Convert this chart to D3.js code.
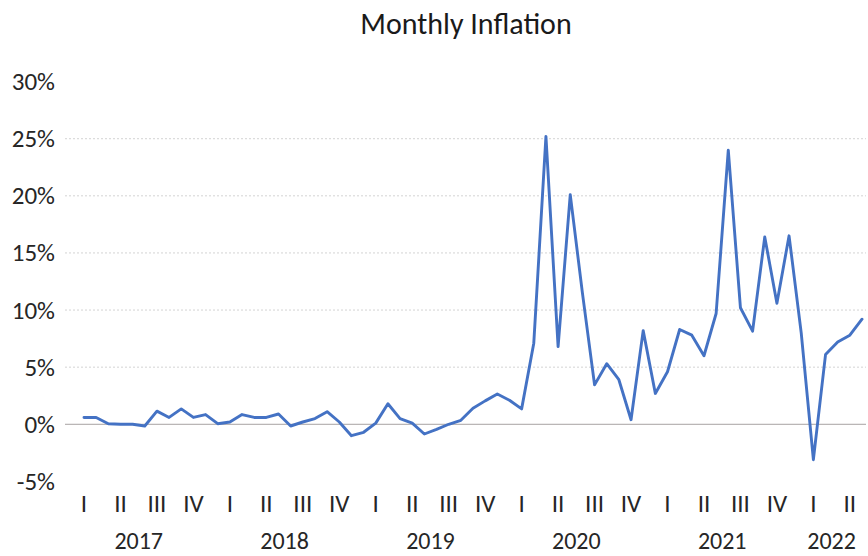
<!DOCTYPE html>
<html>
<head>
<meta charset="utf-8">
<script src="https://cdn.jsdelivr.net/npm/d3@7"></script>
<style>
  html, body { margin: 0; padding: 0; background: #ffffff; }
  svg { display: block; font-family: Carlito, Lato, "Open Sans", sans-serif; }
</style>
</head>
<body>
<svg id="chart" width="868" height="556"></svg>
<script>
// Monthly inflation, January 2017 – May 2022 (percent)
const years = [2017, 2018, 2019, 2020, 2021, 2022];
const quarterLabels = ["I", "II", "III", "IV"];
const inflation = [
  0.6, 0.6, 0.05, 0.0, 0.0, -0.15, 1.15, 0.6, 1.35, 0.6, 0.85, 0.05,      // 2017
  0.2, 0.85, 0.6, 0.6, 0.9, -0.15, 0.2, 0.5, 1.1, 0.2, -1.0, -0.7,        // 2018
  0.1, 1.8, 0.5, 0.1, -0.85, -0.45, 0.0, 0.35, 1.4, 2.05, 2.65, 2.1,      // 2019
  1.35, 7.1, 25.2, 6.8, 20.1, 11.5, 3.45, 5.3, 3.9, 0.4, 8.2, 2.7,        // 2020
  4.6, 8.3, 7.8, 6.0, 9.7, 24.0, 10.2, 8.15, 16.4, 10.6, 16.5, 8.0,       // 2021
  -3.1, 6.1, 7.2, 7.8, 9.2                                                // 2022
];
const yTicks = [-5, 0, 5, 10, 15, 20, 25, 30];
const title = "Monthly Inflation";

// month categories derived from the year list
const months = [];
years.forEach(y => { for (let m = 0; m < 12; m++) months.push({ year: y, month: m }); });
const series = inflation.map((v, i) => ({ i, year: months[i].year, month: months[i].month, v }));

const svg = d3.select("#chart");

const x = d3.scaleLinear().domain([0, series.length - 1]).range([84, 862]);
const y = d3.scaleLinear().domain([-5, 30]).range([481.4, 81.6]);
const gridLeft = 65, gridRight = 866;
const labelColor = "#262626";
const labelSize = 25;

// title
svg.append("text")
  .attr("x", 466).attr("y", 34)
  .attr("text-anchor", "middle")
  .attr("font-size", 30)
  .attr("fill", "#1a1a1a")
  .text(title);

// horizontal gridlines
svg.append("g")
  .selectAll("line")
  .data(yTicks.filter(t => t > 0 && t < 30))
  .join("line")
  .attr("x1", gridLeft).attr("x2", gridRight)
  .attr("y1", d => y(d)).attr("y2", d => y(d))
  .attr("stroke", "#d3d3d3")
  .attr("stroke-width", 1)
  .attr("stroke-dasharray", "2,2");

// zero baseline
svg.append("line")
  .attr("x1", gridLeft).attr("x2", gridRight)
  .attr("y1", y(0)).attr("y2", y(0))
  .attr("stroke", "#a8a2a2")
  .attr("stroke-width", 1);

// y axis labels
const yAxis = d3.axisLeft(y)
  .tickValues(yTicks)
  .tickSize(0)
  .tickPadding(0)
  .tickFormat(d => d + "%");
const gy = svg.append("g")
  .attr("transform", "translate(55,0)")
  .call(yAxis);
gy.select(".domain").remove();
gy.selectAll("text")
  .attr("font-size", labelSize)
  .attr("font-family", "Carlito, Lato, sans-serif")
  .attr("fill", labelColor);

// quarter labels at the first month of each quarter
const quarterStarts = series.filter(d => d.month % 3 === 0);
svg.append("g")
  .selectAll("text")
  .data(quarterStarts)
  .join("text")
  .attr("x", d => x(d.i))
  .attr("y", 512)
  .attr("text-anchor", "middle")
  .attr("font-size", labelSize)
  .attr("fill", labelColor)
  .text(d => quarterLabels[d.month / 3]);

// year labels centred over that year's quarter labels
const yearGroups = d3.groups(quarterStarts, d => d.year).map(([yr, qs]) => ({
  yr, pos: (qs[0].i + qs[qs.length - 1].i) / 2
}));
svg.append("g")
  .selectAll("text")
  .data(yearGroups)
  .join("text")
  .attr("x", d => x(d.pos))
  .attr("y", 549)
  .attr("text-anchor", "middle")
  .attr("font-size", 24)
  .attr("fill", labelColor)
  .text(d => d.yr);

// inflation line
const line = d3.line().x(d => x(d.i)).y(d => y(d.v));
svg.append("path")
  .datum(series)
  .attr("d", line)
  .attr("fill", "none")
  .attr("stroke", "#4472C4")
  .attr("stroke-width", 2.9)
  .attr("stroke-linejoin", "round")
  .attr("stroke-linecap", "round");
</script>
</body>
</html>
